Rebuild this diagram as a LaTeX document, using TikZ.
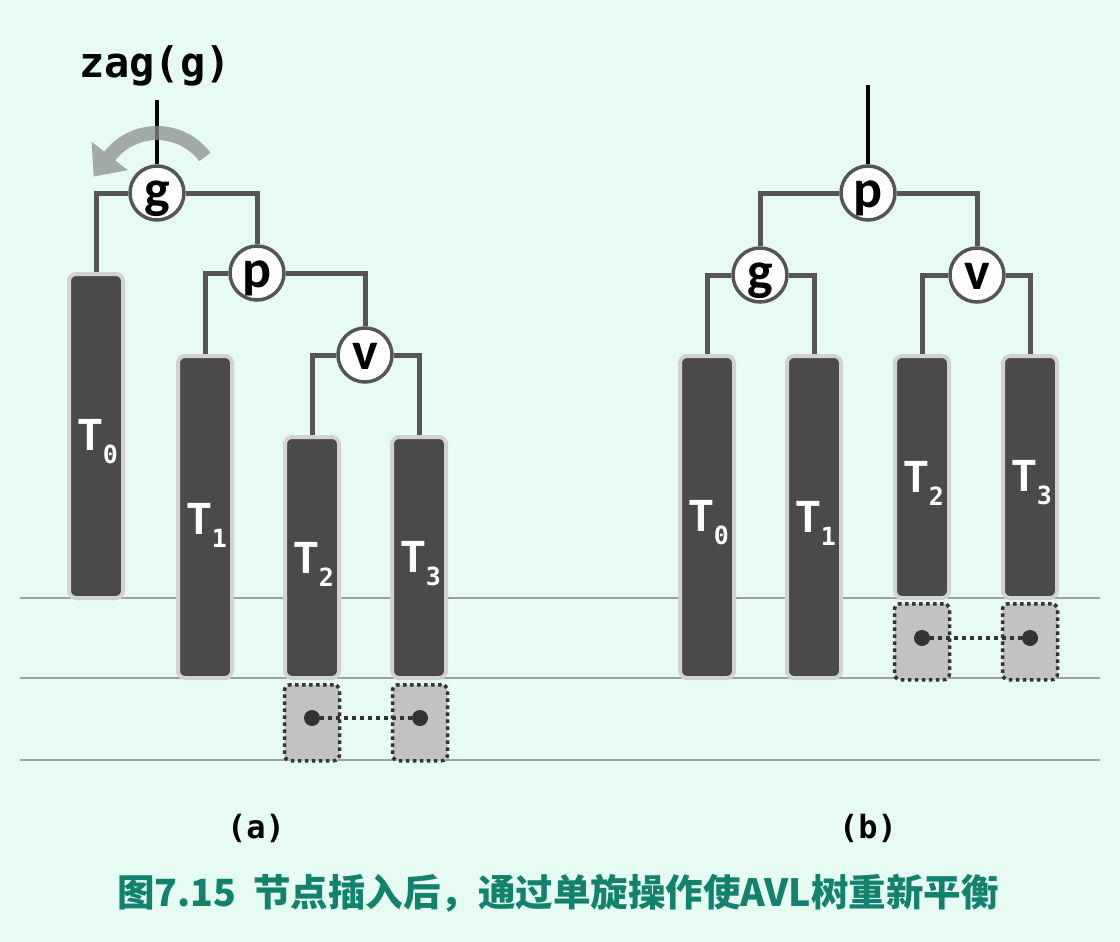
\documentclass[tikz,border=0pt]{standalone}
\usepackage{fontspec}
\setmainfont{Carlito}
\newfontfamily\monof{DejaVu Sans Mono}
\newfontfamily\cjkf{Noto Sans CJK SC}
\definecolor{bgc}{HTML}{E6FBF1}
\definecolor{edgec}{HTML}{555555}
\definecolor{boxfill}{HTML}{4A4A4A}
\definecolor{boxborder}{HTML}{D2D2D2}
\definecolor{extfill}{HTML}{C2C2C2}
\definecolor{dotc}{HTML}{333333}
\definecolor{levelc}{HTML}{A0A0A0}
\definecolor{arrowc}{HTML}{8A8F8C}
\definecolor{capc}{RGB}{18,130,110}
\newcommand{\Tl}[1]{T\kern1pt\raisebox{-13pt}{\monof\bfseries\fontsize{25}{25}\selectfont #1}}
\begin{document}
\begin{tikzpicture}[x=1pt,y=-1pt,
  edge/.style={line width=5pt, draw=edgec},
  rootline/.style={line width=4pt, draw=black},
  tnode/.style={circle, draw=edgec, line width=3.5pt, fill=white, minimum size=54pt, inner sep=0pt, text height=28pt, text depth=0pt, font=\fontsize{54}{54}\bfseries\selectfont},
  tree/.style={rectangle, rounded corners=7pt, draw=boxborder, fill=boxfill, line width=4pt, minimum width=54pt, anchor=north, inner sep=0pt},
  ext/.style={rectangle, rounded corners=6pt, draw=dotc, fill=extfill, line width=3.5pt, dash pattern=on 3.5pt off 3.5pt, minimum width=55pt, anchor=north, inner sep=0pt},
  tlabel/.style={text=white, font=\fontsize{48}{48}\bfseries\selectfont, inner sep=0pt},
  level/.style={line width=2pt, draw=levelc},
  hdot/.style={circle, fill=dotc, minimum size=16pt, inner sep=0pt},
  hlink/.style={line width=4pt, draw=dotc, dash pattern=on 4pt off 4pt},
  sublabel/.style={font=\monof\bfseries\fontsize{32}{32}\selectfont, inner sep=0pt},
  caption/.style={font=\cjkf\bfseries\fontsize{37.5}{37.5}\selectfont, text=capc, inner sep=0pt}
  ]
\useasboundingbox (0,0) rectangle (1120,942);
\fill[bgc] (0,0) rectangle (1120,942);

% level lines
\coordinate (l1s) at (20,598); \coordinate (l1e) at (1100,598);
\coordinate (l2s) at (20,678); \coordinate (l2e) at (1100,678);
\coordinate (l3s) at (20,760); \coordinate (l3e) at (1100,760);
\draw[level] (l1s) -- (l1e);
\draw[level] (l2s) -- (l2e);
\draw[level] (l3s) -- (l3e);

% ---------- (a) ----------
\node[tree, minimum height=324pt] (T0a) at (96,272) {};
\node[tree, minimum height=322pt] (T1a) at (205,354) {};
\node[tree, minimum height=241pt] (T2a) at (312,435) {};
\node[tree, minimum height=241pt] (T3a) at (419,435) {};
\node[ext, minimum height=76pt] (E2a) at (312,683) {};
\node[ext, minimum height=76pt] (E3a) at (420,683) {};
\node[hdot] (D2a) at (312,718) {};
\node[hdot] (D3a) at (420,718) {};
\draw[hlink] (D2a) -- (D3a);

\node[tlabel] (L0a) at (98,442) {\Tl{0}};
\node[tlabel] (L1a) at (207,525) {\Tl{1}};
\node[tlabel] (L2a) at (314,564) {\Tl{2}};
\node[tlabel] (L3a) at (421,564) {\Tl{3}};

\node[tnode] (ga) at (157,193) {g};
\node[tnode] (pa) at (257,273) {p};
\node[tnode] (va) at (365,355) {v};

\draw[edge] (ga.west) -| (T0a.north);
\draw[edge] (ga.east) -| (pa.north);
\draw[edge] (pa.west) -| (T1a.north);
\draw[edge] (pa.east) -| (va.north);
\draw[edge] (va.west) -| (T2a.north);
\draw[edge] (va.east) -| (T3a.north);

\coordinate (topa) at (157,100);
\draw[rootline] (topa) -- (ga.north);

% rotation arrow
\fill[arrowc, opacity=0.75] (157,193) ++(-37:67) arc[start angle=-37, end angle=-142, radius=67]
  -- (91.6,141.8) -- (93.7,176.5) -- (127.8,170.2) -- (115.2,160.4)
  arc[start angle=-142, end angle=-37, radius=53] -- cycle;

\node[font=\monof\bfseries\fontsize{42}{42}\selectfont, inner sep=0pt] (zag) at (155,66) {zag(g)};

% ---------- (b) ----------
\node[tree, minimum height=322pt] (T0b) at (707,354) {};
\node[tree, minimum height=322pt] (T1b) at (814,354) {};
\node[tree, minimum height=242pt] (T2b) at (922,354) {};
\node[tree, minimum height=242pt] (T3b) at (1030,354) {};
\node[ext, minimum height=76pt] (E2b) at (922,602) {};
\node[ext, minimum height=76pt] (E3b) at (1030,602) {};
\node[hdot] (D2b) at (922,638) {};
\node[hdot] (D3b) at (1030,638) {};
\draw[hlink] (D2b) -- (D3b);

\node[tlabel] (L0b) at (709,523) {\Tl{0}};
\node[tlabel] (L1b) at (816,523) {\Tl{1}};
\node[tlabel] (L2b) at (924,483) {\Tl{2}};
\node[tlabel] (L3b) at (1032,483) {\Tl{3}};

\node[tnode] (pb) at (868,193) {p};
\node[tnode] (gb) at (760,275) {g};
\node[tnode] (vb) at (977,275) {v};

\draw[edge] (pb.west) -| (gb.north);
\draw[edge] (pb.east) -| (vb.north);
\draw[edge] (gb.west) -| (T0b.north);
\draw[edge] (gb.east) -| (T1b.north);
\draw[edge] (vb.west) -| (T2b.north);
\draw[edge] (vb.east) -| (T3b.north);

\coordinate (topb) at (868,85);
\draw[rootline] (topb) -- (pb.north);

% labels
\node[sublabel] (capa) at (256,828) {(a)};
\node[sublabel] (capb) at (868,828) {(b)};
\node[caption] (cap) at (558,893) {图7.15\hspace{0.45em}节点插入后，通过单旋操作使AVL树重新平衡};
\end{tikzpicture}
\end{document}
